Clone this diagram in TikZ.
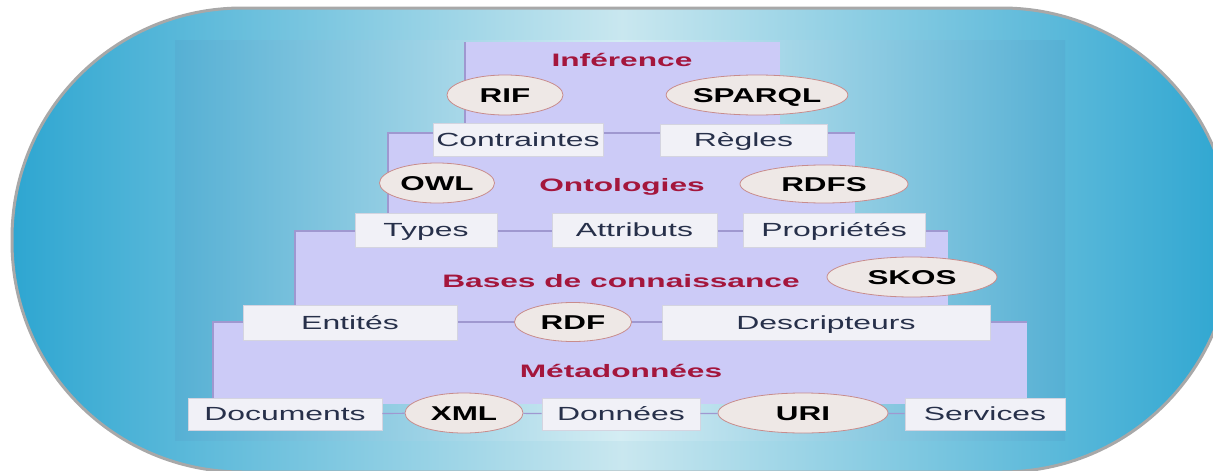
\documentclass[tikz,border=0pt]{standalone}
\usepackage{fontspec}
\setmainfont{Liberation Sans}
\newfontfamily\titlefont[FakeStretch=1.76]{Liberation Sans}
\newfontfamily\boxfont[FakeStretch=1.68]{Liberation Sans}
\newfontfamily\ellfont[FakeStretch=1.57]{Liberation Sans}
\usetikzlibrary{shapes.geometric}
\definecolor{outerL}{HTML}{2EA6D1}
\definecolor{outerM}{HTML}{C9E7EF}
\definecolor{innerL}{HTML}{56B0D4}
\definecolor{innerM}{HTML}{D4EDF3}
\definecolor{lav}{HTML}{CCCBF7}
\definecolor{lvlline}{HTML}{9F98D0}
\definecolor{boxfill}{HTML}{F1F1F7}
\definecolor{boxline}{HTML}{D4D4E0}
\definecolor{ellfill}{HTML}{EEE8E6}
\definecolor{ellline}{HTML}{C88C8C}
\definecolor{titlecol}{HTML}{A4163C}
\definecolor{boxtext}{HTML}{27304A}
\definecolor{framecol}{HTML}{A8A8A8}
\begin{document}
\begin{tikzpicture}[x=1pt,y=-1pt,
  lbl/.style={inner sep=0pt},
  boxnode/.style={lbl, rectangle, fill=boxfill, draw=boxline, line width=0.6pt, text=boxtext,
     text height=13.6pt, text depth=0.4pt, font=\boxfont\fontsize{19}{21}\selectfont},
  ellnode/.style={lbl, ellipse, fill=ellfill, draw=ellline, line width=0.8pt, text=black,
     text height=14.3pt, text depth=0.3pt, font=\ellfont\bfseries\fontsize{20}{22}\selectfont},
  titlenode/.style={lbl, text=titlecol, text height=12.9pt, text depth=0.1pt,
     font=\titlefont\bfseries\fontsize{18}{20}\selectfont},
  level/.style={fill=lav},
  levelborder/.style={draw=lvlline, line width=1.2pt},
  conn/.style={draw=lvlline, line width=1.2pt}
]
\useasboundingbox (0,0) rectangle (1213,471);
\clip (0,0) rectangle (1213,471);
% outer frame
\shade[left color=outerL, right color=outerL, middle color=outerM, rounded corners=230pt] (12,8) rectangle (1232,472);
\draw[framecol, line width=3pt, rounded corners=230pt] (12,8) rectangle (1232,472);
% inner picture
\shade[left color=innerL, right color=innerL, middle color=innerM] (175,40) rectangle (1065,440);
% levels
\fill[level] (465,42) rectangle (780,133);
\draw[levelborder] (465,133) -- (465,42);
\fill[level] (388,133) rectangle (855,231);
\draw[levelborder] (388,231) -- (388,133) -- (855,133);
\fill[level] (295,231) rectangle (948,322);
\draw[levelborder] (295,322) -- (295,231) -- (948,231);
\fill[level] (213,322) rectangle (1027,404);
\draw[levelborder] (213,404) -- (213,322) -- (1027,322);
% level 1
\node[titlenode] (inf) at (622,60) {Inférence};
\node[ellnode, minimum width=116pt, minimum height=40pt] (rif) at (505,95) {RIF};
\node[ellnode, minimum width=171pt, minimum height=40pt] (sparql) at (757,95) {SPARQL};
\node[boxnode, minimum width=170pt, minimum height=33pt] (contr) at (518,140) {Contraintes};
\node[boxnode, minimum width=167pt, minimum height=32pt] (regles) at (743.5,140) {Règles};
% level 2
\node[ellnode, minimum width=115pt, minimum height=40pt] (owl) at (437,183) {OWL};
\node[titlenode] (onto) at (622,185) {Ontologies};
\node[ellnode, minimum width=168pt, minimum height=38pt] (rdfs) at (824,184) {RDFS};
\node[boxnode, minimum width=142pt, minimum height=34pt] (types) at (426,230) {Types};
\node[boxnode, minimum width=165pt, minimum height=34pt] (attr) at (634.5,230) {Attributs};
\node[boxnode, minimum width=182pt, minimum height=34pt] (prop) at (834,230) {Propriétés};
% level 3
\node[titlenode] (bases) at (621,281) {Bases de connaissance};
\node[ellnode, minimum width=170pt, minimum height=40pt] (skos) at (912,277) {SKOS};
\node[ellnode, minimum width=117pt, minimum height=39pt] (rdf) at (573,322) {RDF};
\node[boxnode, minimum width=214pt, minimum height=35pt] (ent) at (350,323) {Entités};
\node[boxnode, minimum width=328pt, minimum height=35pt] (desc) at (826,323) {Descripteurs};
% level 4
\node[titlenode] (meta) at (621,371) {Métadonnées};
\node[boxnode, minimum width=194pt, minimum height=32pt] (doc) at (285,414) {Documents};
\node[ellnode, minimum width=118pt, minimum height=40pt] (xml) at (464,413) {XML};
\node[boxnode, minimum width=158pt, minimum height=32pt] (don) at (621,414) {Données};
\node[ellnode, minimum width=170pt, minimum height=40pt] (uri) at (803,413) {URI};
\node[boxnode, minimum width=160pt, minimum height=32pt] (serv) at (985,414) {Services};
% connectors (bottom row)
\draw[conn] (doc) -- (xml);
\draw[conn] (xml) -- (don);
\draw[conn] (don) -- (uri);
\draw[conn] (uri) -- (serv);
\end{tikzpicture}
\end{document}
